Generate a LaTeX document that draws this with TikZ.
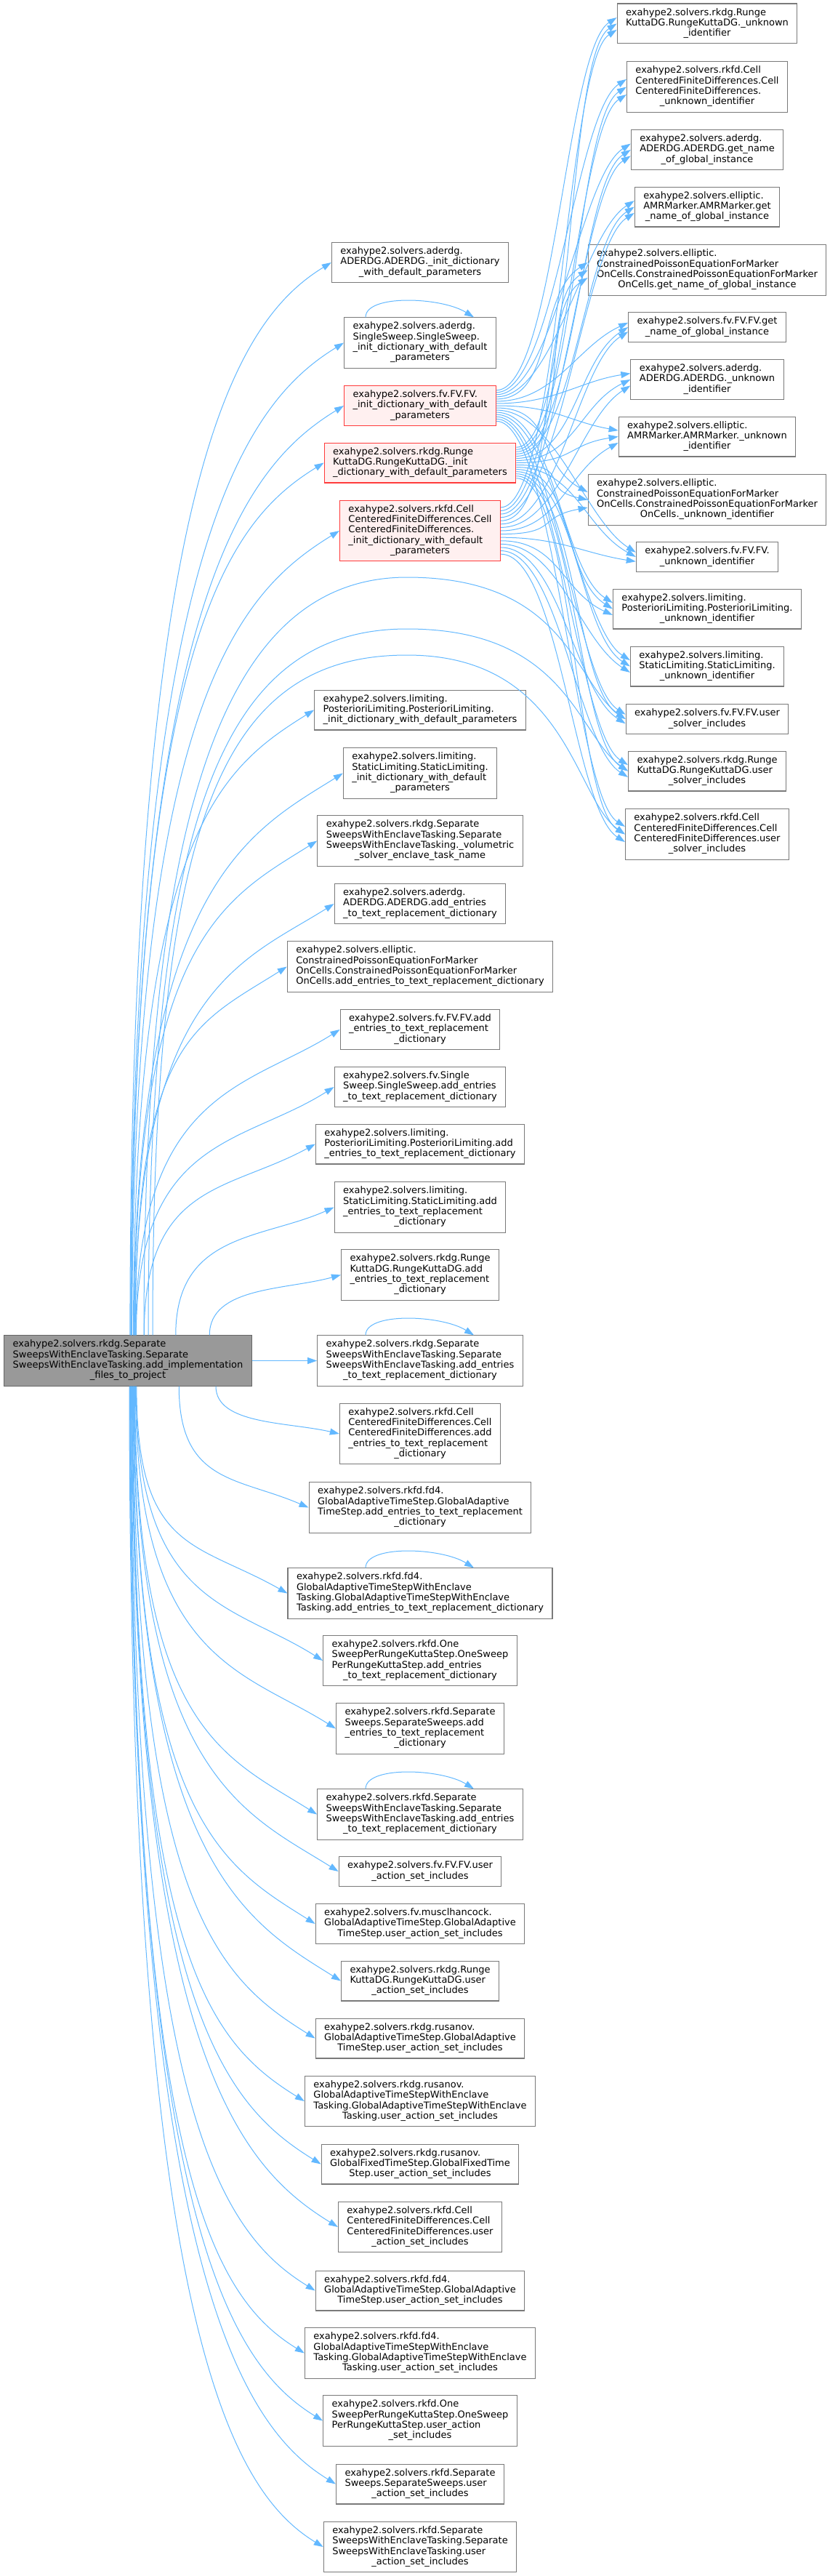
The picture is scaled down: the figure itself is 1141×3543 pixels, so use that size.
\documentclass[tikz,border=0pt]{standalone}
\usepackage{fontspec}
\setmainfont{DejaVu Sans}
\usetikzlibrary{arrows.meta,calc}
\definecolor{callblue}{HTML}{63B8FF}
\definecolor{frame}{HTML}{7A7A7A}
\definecolor{rootfill}{HTML}{999999}
\definecolor{rootline}{HTML}{666666}
\definecolor{trunc}{HTML}{FF3B3B}
\definecolor{truncfill}{HTML}{FFF0F0}
\newcommand{\fnlabel}[2]{\begin{tabular}{@{}l@{}}#1\\\multicolumn{1}{@{}c@{}}{#2}\end{tabular}}
\tikzset{
  fnbox/.style={draw=frame, fill=white, line width=1.1pt, inner xsep=12pt,
                inner ysep=6pt, font=\fontsize{13}{14.3}\selectfont},
  redbox/.style={fnbox, draw=trunc, fill=truncfill},
  rootbox/.style={fnbox, draw=rootline, fill=rootfill},
  ar/.style={-{Triangle[length=13pt,width=9pt]}, line width=1pt, draw=callblue}
}

\begin{document}
\begin{tikzpicture}[x=1pt,y=-1pt]
  \useasboundingbox (0,0) rectangle (1141,3543);

  \node[rootbox] (root) at (176,1871.5)
    {\fnlabel{exahype2.solvers.rkdg.Separate\\SweepsWithEnclaveTasking.Separate\\SweepsWithEnclaveTasking.add\_implementation}{\_files\_to\_project}};

  % right column
  \node[fnbox] (r1) at (973,32.5) {\fnlabel{exahype2.solvers.rkdg.Runge\\KuttaDG.RungeKuttaDG.\_unknown}{\_identifier}};
  \node[fnbox] (r2) at (973,119.5) {\fnlabel{exahype2.solvers.rkfd.Cell\\CenteredFiniteDifferences.Cell\\CenteredFiniteDifferences.}{\_unknown\_identifier}};
  \node[fnbox] (r3) at (973,206) {\fnlabel{exahype2.solvers.aderdg.\\ADERDG.ADERDG.get\_name}{\_of\_global\_instance}};
  \node[fnbox] (r4) at (973,284.5) {\fnlabel{exahype2.solvers.elliptic.\\AMRMarker.AMRMarker.get}{\_name\_of\_global\_instance}};
  \node[fnbox] (r5) at (973,371.5) {\fnlabel{exahype2.solvers.elliptic.\\ConstrainedPoissonEquationForMarker\\OnCells.ConstrainedPoissonEquationForMarker}{OnCells.get\_name\_of\_global\_instance}};
  \node[fnbox] (r6) at (973,450) {\fnlabel{exahype2.solvers.fv.FV.FV.get}{\_name\_of\_global\_instance}};
  \node[fnbox] (r7) at (973,522) {\fnlabel{exahype2.solvers.aderdg.\\ADERDG.ADERDG.\_unknown}{\_identifier}};
  \node[fnbox] (r8) at (973,600.5) {\fnlabel{exahype2.solvers.elliptic.\\AMRMarker.AMRMarker.\_unknown}{\_identifier}};
  \node[fnbox] (r9) at (973,687.5) {\fnlabel{exahype2.solvers.elliptic.\\ConstrainedPoissonEquationForMarker\\OnCells.ConstrainedPoissonEquationForMarker}{OnCells.\_unknown\_identifier}};
  \node[fnbox] (r10) at (973,766) {\fnlabel{exahype2.solvers.fv.FV.FV.}{\_unknown\_identifier}};
  \node[fnbox] (r11) at (973,837.5) {\fnlabel{exahype2.solvers.limiting.\\PosterioriLimiting.PosterioriLimiting.}{\_unknown\_identifier}};
  \node[fnbox] (r12) at (973,916.5) {\fnlabel{exahype2.solvers.limiting.\\StaticLimiting.StaticLimiting.}{\_unknown\_identifier}};
  \node[fnbox] (r13) at (973,989) {\fnlabel{exahype2.solvers.fv.FV.FV.user}{\_solver\_includes}};
  \node[fnbox] (r14) at (973,1060.5) {\fnlabel{exahype2.solvers.rkdg.Runge\\KuttaDG.RungeKuttaDG.user}{\_solver\_includes}};
  \node[fnbox] (r15) at (973,1147.5) {\fnlabel{exahype2.solvers.rkfd.Cell\\CenteredFiniteDifferences.Cell\\CenteredFiniteDifferences.user}{\_solver\_includes}};

  % middle column
  \node[fnbox] (m1) at (578,361) {\fnlabel{exahype2.solvers.aderdg.\\ADERDG.ADERDG.\_init\_dictionary}{\_with\_default\_parameters}};
  \node[fnbox] (m2) at (578,471.5) {\fnlabel{exahype2.solvers.aderdg.\\SingleSweep.SingleSweep.\\\_init\_dictionary\_with\_default}{\_parameters}};
  \node[redbox] (m3) at (578,558) {\fnlabel{exahype2.solvers.fv.FV.FV.\\\_init\_dictionary\_with\_default}{\_parameters}};
  \node[redbox] (m4) at (578,636.5) {\fnlabel{exahype2.solvers.rkdg.Runge\\KuttaDG.RungeKuttaDG.\_init}{\_dictionary\_with\_default\_parameters}};
  \node[redbox] (m5) at (578,730) {\fnlabel{exahype2.solvers.rkfd.Cell\\CenteredFiniteDifferences.Cell\\CenteredFiniteDifferences.\\\_init\_dictionary\_with\_default}{\_parameters}};
  \node[fnbox] (m6) at (578,976.5) {\fnlabel{exahype2.solvers.limiting.\\PosterioriLimiting.PosterioriLimiting.}{\_init\_dictionary\_with\_default\_parameters}};
  \node[fnbox] (m7) at (578,1063.5) {\fnlabel{exahype2.solvers.limiting.\\StaticLimiting.StaticLimiting.\\\_init\_dictionary\_with\_default}{\_parameters}};
  \node[fnbox] (m8) at (578,1156.5) {\fnlabel{exahype2.solvers.rkdg.Separate\\SweepsWithEnclaveTasking.Separate\\SweepsWithEnclaveTasking.\_volumetric}{\_solver\_enclave\_task\_name}};
  \node[fnbox] (m9) at (578,1243) {\fnlabel{exahype2.solvers.aderdg.\\ADERDG.ADERDG.add\_entries}{\_to\_text\_replacement\_dictionary}};
  \node[fnbox] (m10) at (578,1329.5) {\fnlabel{exahype2.solvers.elliptic.\\ConstrainedPoissonEquationForMarker\\OnCells.ConstrainedPoissonEquationForMarker}{OnCells.add\_entries\_to\_text\_replacement\_dictionary}};
  \node[fnbox] (m11) at (578,1416) {\fnlabel{exahype2.solvers.fv.FV.FV.add\\\_entries\_to\_text\_replacement}{\_dictionary}};
  \node[fnbox] (m12) at (578,1495) {\fnlabel{exahype2.solvers.fv.Single\\Sweep.SingleSweep.add\_entries}{\_to\_text\_replacement\_dictionary}};
  \node[fnbox] (m13) at (578,1573.5) {\fnlabel{exahype2.solvers.limiting.\\PosterioriLimiting.PosterioriLimiting.add}{\_entries\_to\_text\_replacement\_dictionary}};
  \node[fnbox] (m14) at (578,1660.5) {\fnlabel{exahype2.solvers.limiting.\\StaticLimiting.StaticLimiting.add\\\_entries\_to\_text\_replacement}{\_dictionary}};
  \node[fnbox] (m15) at (578,1753.5) {\fnlabel{exahype2.solvers.rkdg.Runge\\KuttaDG.RungeKuttaDG.add\\\_entries\_to\_text\_replacement}{\_dictionary}};
  \node[fnbox] (m16) at (578,1871.5) {\fnlabel{exahype2.solvers.rkdg.Separate\\SweepsWithEnclaveTasking.Separate\\SweepsWithEnclaveTasking.add\_entries}{\_to\_text\_replacement\_dictionary}};
  \node[fnbox] (m17) at (578,1972) {\fnlabel{exahype2.solvers.rkfd.Cell\\CenteredFiniteDifferences.Cell\\CenteredFiniteDifferences.add\\\_entries\_to\_text\_replacement}{\_dictionary}};
  \node[fnbox] (m18) at (578,2073.5) {\fnlabel{exahype2.solvers.rkfd.fd4.\\GlobalAdaptiveTimeStep.GlobalAdaptive\\TimeStep.add\_entries\_to\_text\_replacement}{\_dictionary}};
  \node[fnbox] (m19) at (578,2191.5) {\fnlabel{exahype2.solvers.rkfd.fd4.\\GlobalAdaptiveTimeStepWithEnclave\\Tasking.GlobalAdaptiveTimeStepWithEnclave}{Tasking.add\_entries\_to\_text\_replacement\_dictionary}};
  \node[fnbox] (m20) at (578,2284) {\fnlabel{exahype2.solvers.rkfd.One\\SweepPerRungeKuttaStep.OneSweep\\PerRungeKuttaStep.add\_entries}{\_to\_text\_replacement\_dictionary}};
  \node[fnbox] (m21) at (578,2377.5) {\fnlabel{exahype2.solvers.rkfd.Separate\\Sweeps.SeparateSweeps.add\\\_entries\_to\_text\_replacement}{\_dictionary}};
  \node[fnbox] (m22) at (578,2495.5) {\fnlabel{exahype2.solvers.rkfd.Separate\\SweepsWithEnclaveTasking.Separate\\SweepsWithEnclaveTasking.add\_entries}{\_to\_text\_replacement\_dictionary}};
  \node[fnbox] (m23) at (578,2574) {\fnlabel{exahype2.solvers.fv.FV.FV.user}{\_action\_set\_includes}};
  \node[fnbox] (m24) at (578,2646) {\fnlabel{exahype2.solvers.fv.musclhancock.\\GlobalAdaptiveTimeStep.GlobalAdaptive}{TimeStep.user\_action\_set\_includes}};
  \node[fnbox] (m25) at (578,2724.5) {\fnlabel{exahype2.solvers.rkdg.Runge\\KuttaDG.RungeKuttaDG.user}{\_action\_set\_includes}};
  \node[fnbox] (m26) at (578,2803.5) {\fnlabel{exahype2.solvers.rkdg.rusanov.\\GlobalAdaptiveTimeStep.GlobalAdaptive}{TimeStep.user\_action\_set\_includes}};
  \node[fnbox] (m27) at (578,2890) {\fnlabel{exahype2.solvers.rkdg.rusanov.\\GlobalAdaptiveTimeStepWithEnclave\\Tasking.GlobalAdaptiveTimeStepWithEnclave}{Tasking.user\_action\_set\_includes}};
  \node[fnbox] (m28) at (578,2976.5) {\fnlabel{exahype2.solvers.rkdg.rusanov.\\GlobalFixedTimeStep.GlobalFixedTime}{Step.user\_action\_set\_includes}};
  \node[fnbox] (m29) at (578,3063) {\fnlabel{exahype2.solvers.rkfd.Cell\\CenteredFiniteDifferences.Cell\\CenteredFiniteDifferences.user}{\_action\_set\_includes}};
  \node[fnbox] (m30) at (578,3150.5) {\fnlabel{exahype2.solvers.rkfd.fd4.\\GlobalAdaptiveTimeStep.GlobalAdaptive}{TimeStep.user\_action\_set\_includes}};
  \node[fnbox] (m31) at (578,3236.5) {\fnlabel{exahype2.solvers.rkfd.fd4.\\GlobalAdaptiveTimeStepWithEnclave\\Tasking.GlobalAdaptiveTimeStepWithEnclave}{Tasking.user\_action\_set\_includes}};
  \node[fnbox] (m32) at (578,3329.5) {\fnlabel{exahype2.solvers.rkfd.One\\SweepPerRungeKuttaStep.OneSweep\\PerRungeKuttaStep.user\_action}{\_set\_includes}};
  \node[fnbox] (m33) at (578,3416.5) {\fnlabel{exahype2.solvers.rkfd.Separate\\Sweeps.SeparateSweeps.user}{\_action\_set\_includes}};
  \node[fnbox] (m34) at (578,3503) {\fnlabel{exahype2.solvers.rkfd.Separate\\SweepsWithEnclaveTasking.Separate\\SweepsWithEnclaveTasking.user}{\_action\_set\_includes}};

  % calls upwards and downwards from the root
  \foreach \n/\yy in {m1/361, m2/471.5, m3/558, m4/636.5, m5/730, m6/976.5, m7/1063.5,
                      m8/1156.5, m9/1243, m10/1329.5, m11/1416, m12/1495, m13/1573.5, m14/1660.5, m15/1753.5} {
    \pgfmathsetmacro\dd{1837-\yy}
    \pgfmathsetmacro\sh{max(2+12*(1-\dd/1600), 154-0.5*\dd)}
    \pgfmathsetmacro\ca{0.8*\dd}
    \pgfmathsetmacro\cx{0.5*(440-176-\sh)}
    \pgfmathsetmacro\cy{min(0.25*\dd,80)}
    \draw[ar] ([xshift=\sh pt]root.north) .. controls +(0,-\ca) and +(-\cx,\cy) .. (\n.west);
  }
  \foreach \n/\yy in {m17/1972, m18/2073.5, m19/2191.5, m20/2284, m21/2377.5, m22/2495.5, m23/2574,
                      m24/2646, m25/2724.5, m26/2803.5, m27/2890, m28/2976.5, m29/3063, m30/3150.5,
                      m31/3236.5, m32/3329.5, m33/3416.5, m34/3503} {
    \pgfmathsetmacro\dd{\yy-1906}
    \pgfmathsetmacro\sh{max(2+12*(1-\dd/1600), 154-0.5*\dd)}
    \pgfmathsetmacro\ca{0.8*\dd}
    \pgfmathsetmacro\cx{0.5*(440-176-\sh)}
    \pgfmathsetmacro\cy{min(0.25*\dd,80)}
    \draw[ar] ([xshift=\sh pt]root.south) .. controls +(0,\ca) and +(-\cx,-\cy) .. (\n.west);
  }
  \draw[ar] (root) -- (m16);
  \foreach \n/\pk/\sh in {r13/794/22, r14/865/28, r15/901/34}
    \draw[ar] ([xshift=\sh pt]root.north) .. controls +(0,-700) and (300,\pk) .. (560,\pk)
      .. controls (780,\pk) and +(-70,-50) .. (\n.west);

  % truncated nodes into the right column
  \foreach \src/\sy/\fa in {m3/558/0.35, m4/636.5/0.5, m5/730/0.65} {
    \foreach \tgt/\ty [count=\j] in {r1/32.5, r2/119.5, r3/206, r4/284.5, r5/371.5, r6/450, r7/522,
                                     r8/600.5, r9/687.5, r10/766, r11/837.5, r12/916.5, r13/989,
                                     r14/1060.5, r15/1147.5} {
      \pgfmathsetmacro\fr{0.12+0.76*(\j-1)/14}
      \pgfmathsetmacro\sg{\sy>\ty ? 1 : -1}
      \pgfmathsetmacro\cy{\sg*min(0.3*abs(\sy-\ty),45)}
      \draw[ar] ($(\src.north east)!\fr!(\src.south east)$) .. controls +(80,0) and +(-70,\cy)
        .. ($(\tgt.north west)!\fa!(\tgt.south west)$);
    }
  }

  \foreach \n in {m2,m16,m19,m22}
    \draw[ar] ([xshift=-75pt]\n.north) .. controls +(0,-32) and +(-45,-28) .. ([xshift=74pt]\n.north);
\end{tikzpicture}
\end{document}
